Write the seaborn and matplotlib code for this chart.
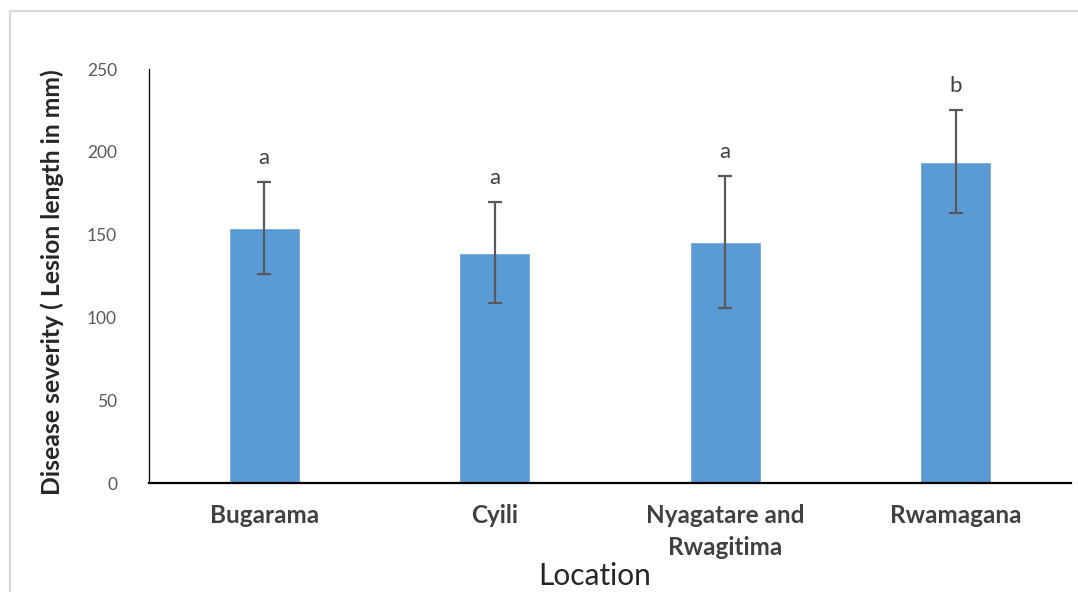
import pandas as pd
import numpy as np
import matplotlib
matplotlib.use("Agg")
import matplotlib.pyplot as plt
from matplotlib.patches import Rectangle
import seaborn as sns

# Values
locations = ["Bugarama", "Cyili", "Nyagatare and\nRwagitima", "Rwamagana"]
severity = [154, 139, 145.5, 194]
severity_err = [28, 30.5, 40, 31]
letters = ["a", "a", "a", "b"]

sns.set_style("white")
plt.rcParams['font.family'] = ['Lato', 'DejaVu Sans']

df = pd.DataFrame({"Location": locations, "Severity": severity, "Err": severity_err})

fig = plt.figure(figsize=(10.78, 5.92), dpi=100)
ax = fig.add_axes([149 / 1078, 1 - 483 / 592, (1071 - 149) / 1078, (483 - 69) / 592])

sns.barplot(data=df, x="Location", y="Severity", color="#5B9BD5", saturation=1,
            width=0.31, errorbar=None, ax=ax)
ax.errorbar(x=np.arange(len(df)), y=df["Severity"], yerr=df["Err"], fmt="none",
            ecolor="#595959", elinewidth=1.6, capsize=4.7, capthick=1.6)

# significance letters above the error bars
for i, (v, e, l) in enumerate(zip(severity, severity_err, letters)):
    ax.annotate(l, (i, v + e), xytext=(0, 13), textcoords="offset points",
                ha="center", va="baseline", fontsize=16, color="#404040")

ax.set_ylim(0, 250)
ax.set_xlim(-0.5, len(df) - 0.5)
ax.set_yticks([0, 50, 100, 150, 200, 250])
ax.tick_params(axis="y", length=0, pad=23, labelsize=12.5, labelcolor="#595959")
ax.tick_params(axis="x", length=0, pad=15, labelsize=17.5, labelcolor="#404040")
for lab in ax.get_xticklabels():
    lab.set_fontweight("bold")
    lab.set_linespacing(1.5)

ax.set_xlabel("")
ax.set_ylabel("")
for s in ["top", "right"]:
    ax.spines[s].set_visible(False)
ax.spines["left"].set_color("black")
ax.spines["left"].set_linewidth(0.9)
ax.spines["bottom"].set_color("black")
ax.spines["bottom"].set_linewidth(1.6)

fig.text(52 / 1078, 1 - 282.5 / 592, "Disease severity ( Lesion length in mm)",
         rotation=90, ha="center", va="center", fontsize=17.8, fontweight="bold", color="#262626")
fig.text(595 / 1078, 1 - 576 / 592, "Location", ha="center", va="center",
         fontsize=21.5, color="#262626")

# light outer frame of the chart area
fig.add_artist(Rectangle((10 / 1078, -0.1), 1.2, (592 - 11) / 592 + 0.1,
                         transform=fig.transFigure, fill=False,
                         edgecolor="#D9D9D9", linewidth=1.6))

fig.savefig("out.png", dpi=100)
